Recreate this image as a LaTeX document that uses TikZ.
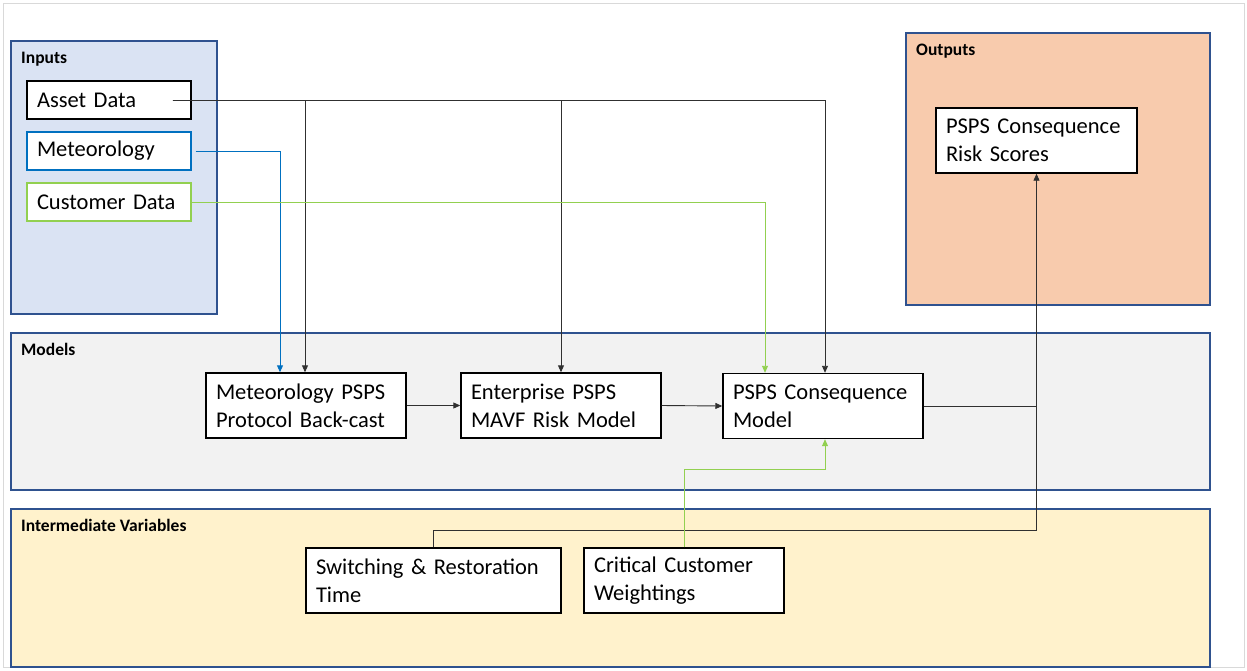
\documentclass[tikz,border=0pt]{standalone}
\usepackage{fontspec}
\setmainfont{Carlito}
\usetikzlibrary{arrows.meta,positioning,calc}
\definecolor{panelborder}{HTML}{2F528F}
\definecolor{infill}{HTML}{DAE3F3}
\definecolor{modfill}{HTML}{F2F2F2}
\definecolor{intfill}{HTML}{FFF2CC}
\definecolor{outfill}{HTML}{F8CBAD}
\definecolor{metblue}{HTML}{0070C0}
\definecolor{custgreen}{HTML}{92D050}
\definecolor{conn}{HTML}{303030}
\definecolor{frame}{HTML}{D9D9D9}
\begin{document}
\begin{tikzpicture}[x=1pt,y=-1pt,
  panel/.style={draw=panelborder,line width=1.3pt},
  paneltitle/.style={anchor=base west,inner sep=0pt,font=\fontsize{17.5}{20}\selectfont\bfseries},
  box/.style={draw=black,fill=white,line width=1.4pt,inner xsep=10pt,inner ysep=0pt,align=left,
    font=\fontsize{22.5}{28}\selectfont},
  wide/.style={text width=#1-20pt},
  arr/.style={-{Triangle[length=7pt,width=6pt]},line width=0.9pt},
  line/.style={line width=0.9pt}]
\useasboundingbox (0,0) rectangle (1247,670);
\draw[frame,line width=1pt] (3,3) rectangle (1244,667);
% panels
\draw[panel,fill=infill] (11,41) rectangle (217,314);
\draw[panel,fill=modfill] (11,333) rectangle (1210,490);
\draw[panel,fill=intfill] (11,509) rectangle (1210,667);
\draw[panel,fill=outfill] (906,33) rectangle (1210,305);
\node[paneltitle] (tin) at (21,63) {Inputs};
\node[paneltitle] (tmod) at (21,355) {Models};
\node[paneltitle] (tint) at (21,531) {Intermediate Variables};
\node[paneltitle] (tout) at (916,55) {Outputs};
% input boxes
\node[box,wide=164pt,minimum height=38pt] (asset) at (109,100) {Asset Data};
\node[box,wide=164pt,minimum height=38pt,draw=metblue] (met) at (109,151) {Meteorology};
\node[box,wide=164pt,minimum height=38pt,draw=custgreen] (cust) at (109,202) {Customer Data};
% model boxes
\node[box,wide=200pt,minimum height=65pt] (metpsps) at (306,405.5) {Meteorology PSPS\\Protocol Back-cast};
\node[box,wide=200pt,minimum height=65pt] (ent) at (561,405.5) {Enterprise PSPS\\MAVF Risk Model};
\node[box,wide=200pt,minimum height=65pt] (cons) at (823,406) {PSPS Consequence\\Model};
% output box
\node[box,wide=201pt,minimum height=65pt] (risk) at (1036.5,140.5) {PSPS Consequence\\Risk Scores};
% intermediate boxes
\node[box,wide=255pt,minimum height=65pt] (switch) at (433.5,580.5) {Switching \& Restoration\\Time};
\node[box,wide=200pt,minimum height=65pt] (crit) at (684,580.5) {Critical Customer\\Weightings};
% connectors
\draw[arr,conn] ([xshift=-19pt]asset.east) -| ([xshift=-1pt]metpsps.north);
\draw[arr,conn] ([xshift=-19pt]asset.east) -| (ent.north);
\draw[arr,conn] ([xshift=-19pt]asset.east) -| ([xshift=2pt]cons.north);
\draw[arr,metblue] ([xshift=4pt]met.east) -| ([xshift=-26pt]metpsps.north);
\draw[arr,custgreen] (cust.east) -| ([xshift=-58pt]cons.north);
\draw[arr,conn] (metpsps.east) -- (ent.west);
\draw[arr,conn] (ent.east) -- (cons.west);
\draw[arr,conn] (cons.east) -| (risk.south);
\draw[line,conn] (switch.north) |- ([yshift=17pt]switch.north -| risk.south) -- (cons.east -| risk.south);
\draw[arr,custgreen] (crit.north) -- ++(0,-78) -| ([xshift=2pt]cons.south);
\end{tikzpicture}
\end{document}
